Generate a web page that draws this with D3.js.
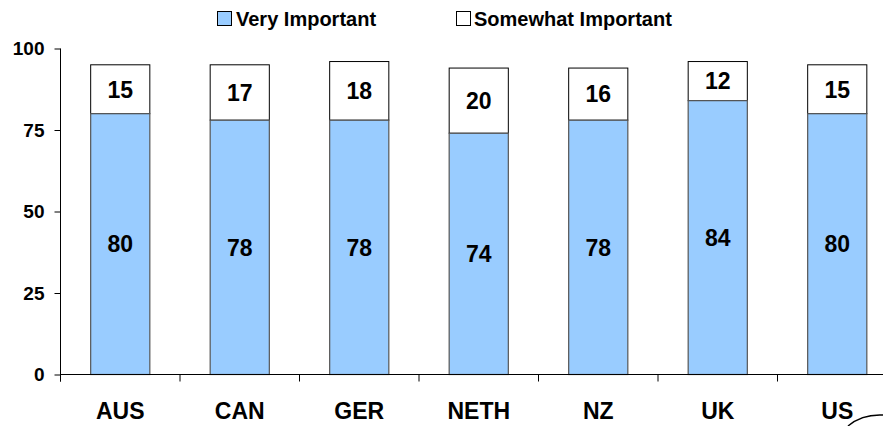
<!DOCTYPE html>
<html><head><meta charset="utf-8">
<script src="https://cdn.jsdelivr.net/npm/d3@7"></script>
<style>body{margin:0;background:#fff}svg{display:block;font-family:"Liberation Sans",Arial,sans-serif;font-weight:bold}</style>
</head><body><svg id="c" width="883" height="426"></svg>
<script>
const categories = ["AUS","CAN","GER","NETH","NZ","UK","US"];
const veryImportant = [80,78,78,74,78,84,80];
const somewhatImportant = [15,17,18,20,16,12,15];
const yTicks = [0,25,50,75,100];
const seriesNames = ["Very Important","Somewhat Important"];

const svg = d3.select("#c");
const x0 = 60.5, band = 119.5;
const x = d3.scaleBand().domain(categories).range([x0, x0 + band*categories.length]).paddingInner(0.505).paddingOuter(0.2525);
const y = d3.scaleLinear().domain([0,100]).range([374.5,48.5]);

// bars
const g = svg.append("g");
categories.forEach((c,i)=>{
  const v = veryImportant[i], s = somewhatImportant[i];
  g.append("rect").attr("x",x(c)).attr("y",y(v+s)).attr("width",x.bandwidth()).attr("height",y(v)-y(v+s))
    .attr("fill","#fff").attr("stroke","#000").attr("stroke-width",1);
  g.append("rect").attr("x",x(c)).attr("y",y(v)).attr("width",x.bandwidth()).attr("height",y(0)-y(v))
    .attr("fill","#99CCFF").attr("stroke","#555").attr("stroke-width",1.2);
  g.append("text").attr("x",x(c)+x.bandwidth()/2).attr("y",y(v/2)).attr("dy","0.36em").attr("text-anchor","middle")
    .attr("font-size",23).text(v);
  g.append("text").attr("x",x(c)+x.bandwidth()/2).attr("y",y(v+s/2)).attr("dy","0.36em").attr("text-anchor","middle")
    .attr("font-size",23).text(s);
});

// y axis
const ya = svg.append("g").attr("transform",`translate(${x0},0)`)
  .call(d3.axisLeft(y).tickValues(yTicks).tickSize(6).tickPadding(10));
ya.select(".domain").attr("d",`M-0,${y(100)}V${y(0)+7}`);
ya.selectAll("text").attr("font-size",19).attr("font-family","Liberation Sans, Arial, sans-serif").attr("font-weight","bold").attr("fill","#000");

// x axis line with ticks at band boundaries
const xa = svg.append("g");
xa.append("line").attr("x1",x0).attr("x2",883).attr("y1",y(0)).attr("y2",y(0)).attr("stroke","#000");
d3.range(categories.length+1).forEach(k=>{
  const xx = x0 + k*band;
  xa.append("line").attr("x1",xx).attr("x2",xx).attr("y1",y(0)).attr("y2",y(0)+7).attr("stroke","#000");
});
categories.forEach(c=>{
  xa.append("text").attr("x",x(c)+x.bandwidth()/2).attr("y",419).attr("text-anchor","middle").attr("font-size",23).text(c);
});

// legend
const leg = [{name:seriesNames[0],fill:"#99CCFF",bx:217,tx:236},{name:seriesNames[1],fill:"#fff",bx:456,tx:474}];
leg.forEach(l=>{
  svg.append("rect").attr("x",l.bx+0.5).attr("y",11.5).attr("width",14).attr("height",14).attr("fill",l.fill).attr("stroke","#000");
  svg.append("text").attr("x",l.tx).attr("y",26).attr("font-size",20).text(l.name);
});

// decorative arc bottom right
svg.append("path").attr("d","M848,426 Q862,414 883,415").attr("fill","none").attr("stroke","#000").attr("stroke-width",1.5);
</script></body></html>
